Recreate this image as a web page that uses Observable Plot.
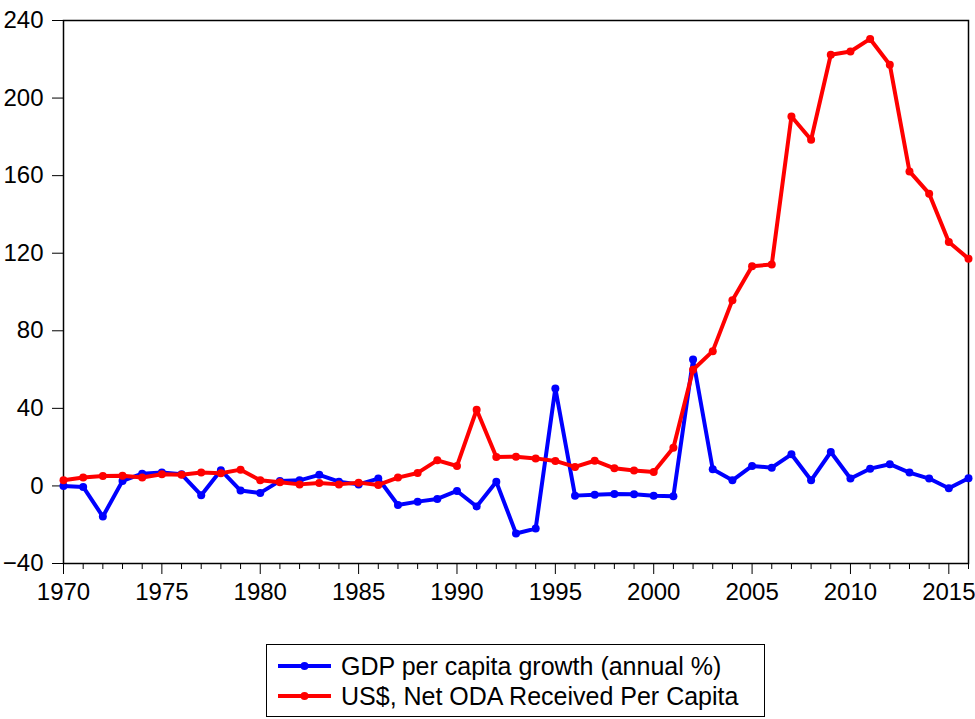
<!DOCTYPE html>
<html>
<head>
<meta charset="utf-8">
<script src="https://cdn.jsdelivr.net/npm/d3@7"></script>
<script src="https://cdn.jsdelivr.net/npm/@observablehq/plot@0.6"></script>
<style>
  body { margin: 0; background: #fff; font-family: "Liberation Sans", Arial, sans-serif; }
  #wrap { position: relative; width: 975px; height: 719px; }
  #legend { position: absolute; left: 266px; top: 644px; width: 497px; height: 71px;
    border: 1.5px solid #000; box-sizing: content-box; font-size: 25px; color: #000; }
  .row { position: absolute; left: 0; height: 30px; display: flex; align-items: center; }
  .row svg { margin-left: 11px; margin-right: 10px; }
</style>
</head>
<body>
<div id="wrap"></div>
<script>
const years = d3.range(1970, 2017);
const gdpGrowth = [0, -0.5, -15.8, 2.6, 6.3, 6.9, 6, -4.8, 8.1, -2.4,
  -3.6, 2.6, 2.9, 5.7, 2.2, 0.8, 3.8, -9.8, -8.1, -6.7,
  -2.6, -10.6, 2.1, -24.5, -22, 50.3, -5, -4.6, -4.1, -4.3,
  -5.1, -5.3, 65.2, 8.6, 2.9, 10.3, 9.4, 16.3, 2.9, 17.5,
  3.8, 8.9, 11.2, 6.9, 3.8, -1.2, 4];
const odaPerCapita = [2.9, 4.3, 5.1, 5.3, 4.3, 6, 5.8, 6.9, 6.5, 8.4,
  2.9, 1.9, 0.8, 1.5, 0.8, 1.7, 0.5, 4.3, 6.7, 13.2,
  10.3, 39.3, 14.9, 15.1, 14.2, 12.9, 9.8, 13, 9.1, 7.9,
  7.2, 19.7, 59.9, 69.5, 95.8, 113.3, 114.2, 190.5, 178.5, 222.3,
  224, 230.5, 217.2, 162.2, 150.7, 125.8, 117.2];
const seriesNames = ["GDP per capita growth (annual %)", "US$, Net ODA Received Per Capita"];
const seriesColors = ["#0000ff", "#ff0000"];
const yTicks = [-40, 0, 40, 80, 120, 160, 200, 240];
const xMajor = d3.range(1970, 2017, 5);

const gdp = years.map((y, i) => ({year: y, value: gdpGrowth[i]}));
const oda = years.map((y, i) => ({year: y, value: odaPerCapita[i]}));

const chart = Plot.plot({
  width: 975,
  height: 620,
  marginLeft: 63,
  marginRight: 7,
  marginTop: 20,
  marginBottom: 57,
  style: {fontFamily: "Liberation Sans, Arial, sans-serif", fontSize: "24px", color: "#000", background: "#fff"},
  x: {domain: [1970, 2016]},
  y: {domain: [-40, 240]},
  marks: [
    Plot.axisY({ticks: yTicks, tickSize: 11, tickPadding: 9, label: null, fontSize: 24}),
    Plot.axisX({ticks: years.filter(y => y % 5 !== 0), tickSize: 6, tickFormat: () => "", label: null}),
    Plot.axisX({ticks: xMajor, tickSize: 11, tickPadding: 8, tickFormat: "d", label: null, fontSize: 24}),
    Plot.frame({stroke: "#000", strokeWidth: 1.5}),
    Plot.line(gdp, {x: "year", y: "value", stroke: seriesColors[0], strokeWidth: 4}),
    Plot.dot(gdp, {x: "year", y: "value", fill: seriesColors[0], r: 4}),
    Plot.line(oda, {x: "year", y: "value", stroke: seriesColors[1], strokeWidth: 4}),
    Plot.dot(oda, {x: "year", y: "value", fill: seriesColors[1], r: 4})
  ]
});
const wrap = document.getElementById("wrap");
wrap.appendChild(chart);

const legend = document.createElement("div");
legend.id = "legend";
seriesNames.forEach((name, i) => {
  const row = document.createElement("div");
  row.className = "row";
  row.style.top = (6 + i * 30) + "px";
  row.innerHTML = `<svg width="53" height="12"><line x1="0" x2="53" y1="6" y2="6" stroke="${seriesColors[i]}" stroke-width="4"/><circle cx="26.5" cy="6" r="4" fill="${seriesColors[i]}"/></svg><span>${name}</span>`;
  legend.appendChild(row);
});
wrap.appendChild(legend);
</script>
</body>
</html>
